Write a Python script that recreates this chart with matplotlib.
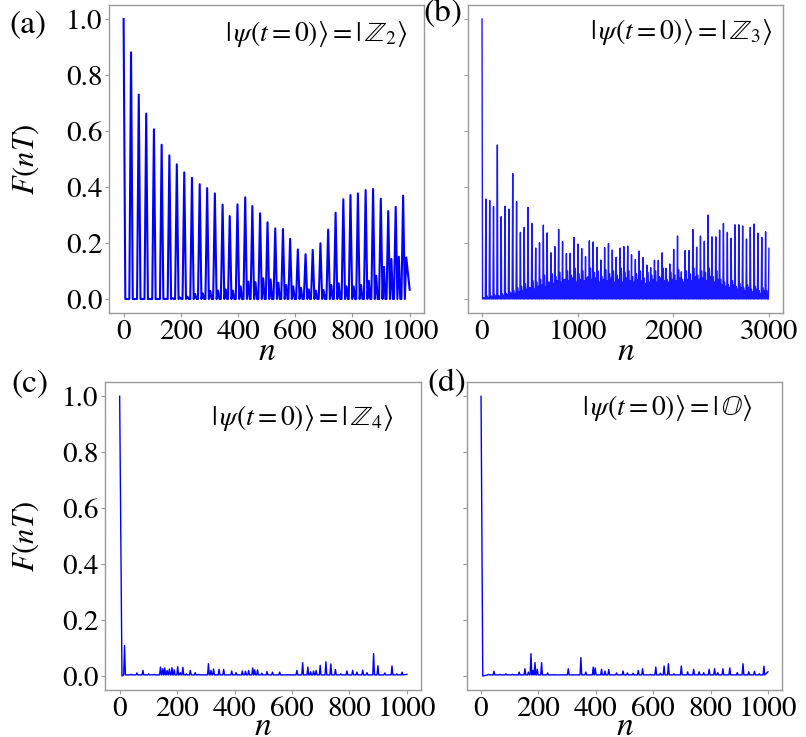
import matplotlib
matplotlib.use("Agg")
import matplotlib.pyplot as plt

plt.rcParams['font.family'] = ['STIXGeneral', 'DejaVu Serif']
plt.rcParams['mathtext.fontset'] = 'stix'

# ---------------- data ----------------
# (a) |Z2>: main revival peaks and the small side peak after each of them
a_peak_n = [0, 26, 53, 79, 106, 133, 160, 186, 212, 239, 266, 292, 319, 346, 371, 398, 425, 450, 477,
            503, 530, 557, 582, 609, 636, 661, 688, 715, 741, 768, 793, 819, 846, 872, 899, 925, 951, 977]
a_peak_F = [1.0, 0.881, 0.730, 0.662, 0.606, 0.551, 0.513, 0.481, 0.452, 0.433, 0.410, 0.396, 0.377,
            0.337, 0.296, 0.338, 0.363, 0.332, 0.306, 0.274, 0.252, 0.250, 0.215, 0.177, 0.160, 0.175,
            0.199, 0.248, 0.308, 0.356, 0.371, 0.377, 0.389, 0.393, 0.358, 0.314, 0.329, 0.369]
a_side_F = [0, 0, 0, 0, 0, 0, 0.003, 0.005, 0.008, 0.018, 0.02, 0.029, 0.03, 0.034, 0.03, 0.045,
            0.062, 0.06, 0.074, 0.07, 0.058, 0.05, 0.045, 0.04, 0.034, 0.03, 0.032, 0.05, 0.056,
            0.045, 0.045, 0.05, 0.065, 0.083, 0.115, 0.143, 0.151, 0.148]
a_end = (1000, 0.033)

# (b) |Z3>
b_peak_n = [0, 40, 80, 120, 160, 200, 240, 280, 321, 361,
            401, 441, 481, 521, 561, 601, 641, 681, 721, 761,
            801, 842, 882, 922, 962, 1002, 1042, 1082, 1122, 1162,
            1202, 1242, 1282, 1322, 1362, 1402, 1443, 1483, 1523, 1563,
            1603, 1643, 1683, 1723, 1763, 1803, 1843, 1883, 1923, 1963,
            2004, 2044, 2084, 2124, 2164, 2204, 2244, 2284, 2324, 2364,
            2404, 2444, 2484, 2524, 2565, 2605, 2645, 2685, 2725, 2765,
            2805, 2845, 2885, 2925, 2965]
b_peak_F = [1.0, 0.357, 0.352, 0.330, 0.550, 0.294, 0.331, 0.321, 0.448, 0.348,
            0.238, 0.256, 0.327, 0.270, 0.182, 0.201, 0.264, 0.236, 0.165, 0.187,
            0.249, 0.205, 0.162, 0.163, 0.220, 0.196, 0.180, 0.151, 0.208, 0.204,
            0.185, 0.139, 0.183, 0.198, 0.175, 0.149, 0.182, 0.187, 0.189, 0.158,
            0.141, 0.171, 0.148, 0.121, 0.112, 0.138, 0.138, 0.165, 0.110, 0.125,
            0.177, 0.225, 0.097, 0.173, 0.173, 0.248, 0.185, 0.225, 0.206, 0.300,
            0.222, 0.222, 0.246, 0.270, 0.238, 0.217, 0.265, 0.265, 0.261, 0.214,
            0.256, 0.268, 0.235, 0.220, 0.240]
b_side1_F = [0.005, 0.01, 0.012, 0.015, 0.012, 0.018, 0.02, 0.025, 0.03, 0.04,
             0.045, 0.055, 0.04, 0.065, 0.06, 0.07, 0.085, 0.06, 0.09, 0.08,
             0.095, 0.07, 0.1, 0.085, 0.11, 0.09, 0.1, 0.075, 0.11, 0.095,
             0.1, 0.08, 0.105, 0.09, 0.1, 0.085, 0.11, 0.095, 0.1, 0.08,
             0.09, 0.1, 0.075, 0.095, 0.085, 0.1, 0.08, 0.11, 0.07, 0.095,
             0.085, 0.105, 0.07, 0.1, 0.09, 0.11, 0.085, 0.1, 0.095, 0.11,
             0.08, 0.1, 0.07, 0.06, 0.05, 0.065, 0.045, 0.055, 0.04, 0.05,
             0.035, 0.045, 0.03, 0.04, 0.03]
b_side2_F = [0.003, 0.005, 0.008, 0.01, 0.01, 0.012, 0.015, 0.02, 0.02, 0.025,
             0.03, 0.035, 0.04, 0.035, 0.045, 0.05, 0.045, 0.06, 0.055, 0.065,
             0.06, 0.07, 0.065, 0.075, 0.06, 0.07, 0.065, 0.08, 0.07, 0.075,
             0.06, 0.07, 0.065, 0.075, 0.06, 0.07, 0.06, 0.075, 0.065, 0.06,
             0.07, 0.065, 0.055, 0.06, 0.07, 0.06, 0.075, 0.065, 0.06, 0.07,
             0.065, 0.075, 0.06, 0.07, 0.065, 0.08, 0.07, 0.075, 0.065, 0.08,
             0.06, 0.07, 0.05, 0.045, 0.04, 0.05, 0.035, 0.04, 0.03, 0.04,
             0.025, 0.035, 0.02, 0.03, 0.025]
b_end = (3000, 0.181)

# (c) |Z4>
c_start = [(0, 1.0), (8, 0.0)]
c_peak_n = [17, 40, 60, 81, 101, 120, 142, 150, 157, 165, 173, 182, 190, 202, 211, 220, 232, 246, 263,
            275, 309, 318, 327, 346, 362, 390, 405, 427, 438, 449, 463, 470, 480, 495, 513, 532, 557,
            585, 617, 637, 655, 665, 675, 684, 698, 718, 735, 751, 770, 791, 811, 826, 846, 861, 884,
            899, 923, 948, 965, 983]
c_peak_F = [0.109, 0.006, 0.011, 0.02, 0.008, 0.006, 0.032, 0.026, 0.029, 0.02, 0.025, 0.030, 0.022,
            0.033, 0.012, 0.031, 0.008, 0.020, 0.012, 0.006, 0.044, 0.02, 0.025, 0.024, 0.024, 0.018,
            0.012, 0.018, 0.017, 0.02, 0.029, 0.022, 0.022, 0.01, 0.016, 0.014, 0.014, 0.005, 0.02,
            0.048, 0.032, 0.015, 0.018, 0.02, 0.038, 0.051, 0.043, 0.023, 0.008, 0.018, 0.02, 0.014,
            0.021, 0.012, 0.080, 0.037, 0.011, 0.036, 0.008, 0.014]
c_base = 0.004
c_end = (1000, 0.006)

# (d) |O>
d_start = [(0, 1.0), (6, 0.0)]
d_peak_n = [26, 45, 66, 87, 110, 133, 153, 165, 174, 181, 188, 196, 211, 232, 255, 280, 304, 348, 365,
            391, 398, 420, 432, 445, 472, 495, 510, 530, 548, 563, 590, 609, 625, 638, 653, 672, 698,
            720, 741, 760, 776, 795, 814, 825, 843, 867, 893, 913, 933, 953, 970, 986]
d_peak_F = [0.006, 0.017, 0.006, 0.008, 0.006, 0.014, 0.026, 0.014, 0.080, 0.02, 0.048, 0.024, 0.048,
            0.011, 0.005, 0.004, 0.026, 0.066, 0.014, 0.032, 0.029, 0.024, 0.018, 0.023, 0.011, 0.018,
            0.011, 0.01, 0.020, 0.026, 0.006, 0.032, 0.01, 0.036, 0.044, 0.008, 0.036, 0.015, 0.024,
            0.015, 0.012, 0.024, 0.026, 0.012, 0.026, 0.029, 0.012, 0.044, 0.015, 0.017, 0.008, 0.035]
d_base = 0.004
d_end = (1000, 0.015)

states = [r'$|\,\psi(t=0)\rangle=|\,\mathbb{Z}_2\rangle$',
          r'$|\,\psi(t=0)\rangle=|\,\mathbb{Z}_3\rangle$',
          r'$|\,\psi(t=0)\rangle=|\,\mathbb{Z}_4\rangle$',
          r'$|\,\psi(t=0)\rangle=|\,\mathbb{O}\rangle$']
panel_tags = ['(a)', '(b)', '(c)', '(d)']
yticks = [0.0, 0.2, 0.4, 0.6, 0.8, 1.0]


# ---------------- curves from the read values ----------------
def curve_a():
    xs, ys = [], []
    last = len(a_peak_n) - 1
    for i, (p, h, s) in enumerate(zip(a_peak_n, a_peak_F, a_side_F)):
        if i > 0:
            xs.append(p - 6); ys.append(0.0)
        xs += [p, p + 6, p + 11]; ys += [h, 0.0, s]
        if i < last:
            xs.append(p + 16); ys.append(0.0)
    xs.append(a_end[0]); ys.append(a_end[1])
    return xs, ys


def curve_b():
    xs, ys = [], []
    for p, h, s1, s2 in zip(b_peak_n, b_peak_F, b_side1_F, b_side2_F):
        xs += [p, p + 5, p + 13, p + 20, p + 27, p + 34]
        ys += [h, 0.0, s1, 0.0, s2, 0.0]
    xs = xs[:-2]; ys = ys[:-2]
    xs.append(b_end[0] - 6); ys.append(0.0)
    xs.append(b_end[0]); ys.append(b_end[1])
    return xs, ys


def curve_spikes(start, pn, pf, base, end):
    xs = [v[0] for v in start]
    ys = [v[1] for v in start]
    for p, h in zip(pn, pf):
        xs += [p - 3, p, p + 3]
        ys += [base, h, base]
    xs.append(end[0]); ys.append(end[1])
    return xs, ys


curves = [curve_a(), curve_b(),
          curve_spikes(c_start, c_peak_n, c_peak_F, c_base, c_end),
          curve_spikes(d_start, d_peak_n, d_peak_F, d_base, d_end)]

# ---------------- figure ----------------
fig = plt.figure(figsize=(8.06, 7.37), dpi=100)
W, H = 806.0, 737.0
boxes = [(109.3, 5, 424, 313), (467.7, 5, 783.3, 313),
         (105.3, 382.3, 421.3, 690), (466.7, 382.3, 782.3, 690)]
axes = []
for (l, t, r, b) in boxes:
    axes.append(fig.add_axes([l / W, 1 - b / H, (r - l) / W, (b - t) / H]))

styles = [dict(lw=1.5, alpha=1.0), dict(lw=1.0, alpha=0.9),
          dict(lw=1.0, alpha=1.0), dict(lw=1.0, alpha=1.0)]
text_pos = [(0.946, 0.905), (0.965, 0.912), (0.910, 0.884), (0.904, 0.918)]
ylab_x = [-0.217, None, -0.203, None]
xlab_y = [-0.153, -0.153, -0.146, -0.146]
spine_col = '#999999'

for i, ax in enumerate(axes):
    xs, ys = curves[i]
    ax.plot(xs, ys, color='blue', **styles[i])
    xmax = 3000 if i == 1 else 1000
    ax.set_xlim(-0.05 * xmax, 1.05 * xmax)
    ax.set_ylim(-0.05, 1.05)
    ax.set_yticks(yticks)
    if i == 1:
        ax.set_xticks([0, 1000, 2000, 3000])
    else:
        ax.set_xticks([0, 200, 400, 600, 800, 1000])
    for sp in ax.spines.values():
        sp.set_color(spine_col)
        sp.set_linewidth(1.0)
    ax.tick_params(direction='out', length=3, width=0.8, color=spine_col,
                   labelsize=21, labelcolor='black', pad=2)
    if i in (1, 3):
        ax.set_yticklabels([])
    else:
        ax.set_yticklabels(['0.0', '0.2', '0.4', '0.6', '0.8', '1.0'])
        ax.set_ylabel(r'$F(nT)$', fontsize=22)
        ax.yaxis.set_label_coords(ylab_x[i], 0.5)
    ax.set_xlabel('n', fontsize=24, fontstyle='italic', va='baseline')
    ax.xaxis.set_label_coords(0.5, xlab_y[i])
    ax.text(text_pos[i][0], text_pos[i][1], states[i], transform=ax.transAxes,
            ha='right', va='center', fontsize=20)

tag_pos = [(28, 25), (443, 14), (30, 384), (447, 384)]
for tag, (x, y) in zip(panel_tags, tag_pos):
    fig.text(x / W, 1 - y / H, tag, ha='center', va='center', fontsize=24)

fig.savefig('out.png', dpi=100)
